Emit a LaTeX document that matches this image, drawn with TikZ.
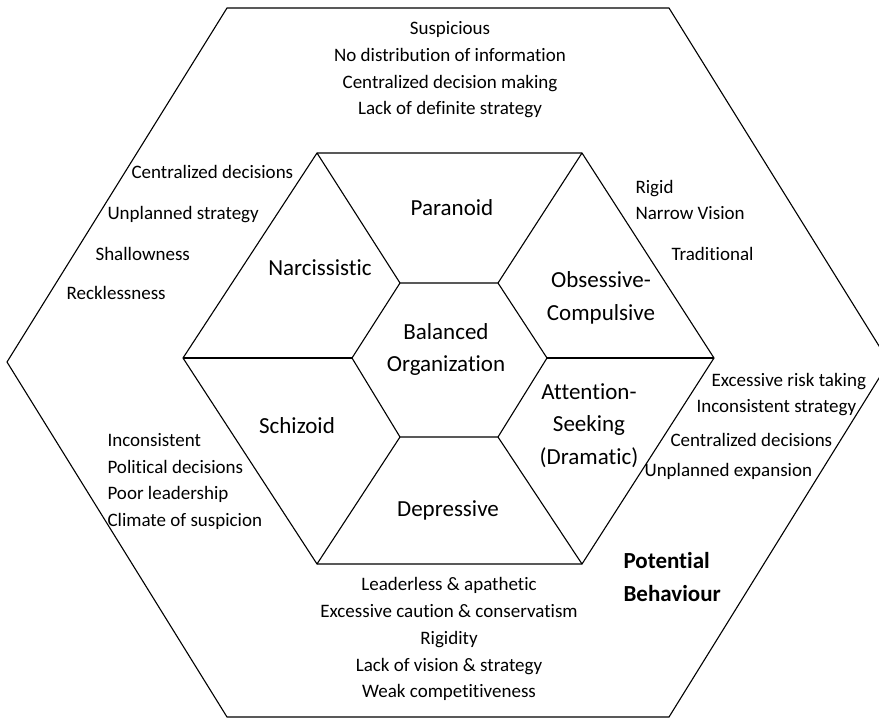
\documentclass[tikz,border=0pt]{standalone}
\usepackage{fontspec}
\setmainfont{Carlito}[Ligatures=NoCommon]
\begin{document}
\begin{tikzpicture}[x=1pt,y=-1pt,line width=1.1pt,line join=miter,
  sm/.style={font=\fontsize{19}{23}\selectfont,inner sep=0pt,text height=12.2pt,text depth=0pt},
  lg/.style={font=\fontsize{23}{28}\selectfont,inner sep=0pt,text height=14.7pt,text depth=0pt},
  bd/.style={font=\fontsize{23}{28}\selectfont\bfseries,inner sep=0pt,text height=14.7pt,text depth=0pt}]
\useasboundingbox (0,0) rectangle (879,718);
\clip (0,0) rectangle (879,718);
% outer hexagon
\coordinate (O1) at (227,8);
\coordinate (O2) at (669,8);
\coordinate (O3) at (889,362);
\coordinate (O4) at (669,717);
\coordinate (O5) at (227,717);
\coordinate (O6) at (7,362);
\draw (O1) -- (O2) -- (O3) -- (O4) -- (O5) -- (O6) -- cycle;
% big hexagon
\coordinate (B1) at (317,153);
\coordinate (B2) at (582,153);
\coordinate (B3) at (714,358);
\coordinate (B4) at (582,564);
\coordinate (B5) at (317,564);
\coordinate (B6) at (183,358);
\draw (B1) -- (B2) -- (B3) -- (B4) -- (B5) -- (B6) -- cycle;
% inner hexagon
\coordinate (I1) at (400,283);
\coordinate (I2) at (498,283);
\coordinate (I3) at (547,358);
\coordinate (I4) at (498,437);
\coordinate (I5) at (400,437);
\coordinate (I6) at (352,358);
\draw (I1) -- (I2) -- (I3) -- (I4) -- (I5) -- (I6) -- cycle;
% spokes
\draw (B1) -- (I1);
\draw (B2) -- (I2);
\draw (B3) -- (I3);
\draw (B4) -- (I4);
\draw (B5) -- (I5);
\draw (B6) -- (I6);
% segment labels
\node[lg] (par) at (452,208) {Paranoid};
\node[lg] (nar) at (320,268) {Narcissistic};
\node[lg] (obs1) at (601,280) {Obsessive-};
\node[lg] (obs2) at (601,313) {Compulsive};
\node[lg] (bal1) at (446,332) {Balanced};
\node[lg] (bal2) at (446,364) {Organization};
\node[lg] (sch) at (297,426) {Schizoid};
\node[lg] (dep) at (448,509) {Depressive};
\node[lg] (att1) at (589,392) {Attention-};
\node[lg] (att2) at (589,424) {Seeking};
\node[lg] (att3) at (589,457) {(Dramatic)};
% top list
\node[sm] (t1) at (450,28) {Suspicious};
\node[sm] (t2) at (450,55) {No distribution of information};
\node[sm] (t3) at (450,82) {Centralized decision making};
\node[sm] (t4) at (450,108) {Lack of definite strategy};
% upper left list
\node[sm,anchor=west] (l1) at (131,172) {Centralized decisions};
\node[sm,anchor=west] (l2) at (107,213) {Unplanned strategy};
\node[sm,anchor=west] (l3) at (95,254) {Shallowness};
\node[sm,anchor=west] (l4) at (66,293) {Recklessness};
% upper right list
\node[sm,anchor=west] (r1) at (635,187) {Rigid};
\node[sm,anchor=west] (r2) at (635,213) {Narrow Vision};
\node[sm,anchor=west] (r3) at (671,254) {Traditional};
% lower left list
\node[sm,anchor=west] (s1) at (107,440) {Inconsistent};
\node[sm,anchor=west] (s2) at (107,467) {Political decisions};
\node[sm,anchor=west] (s3) at (107,493) {Poor leadership};
\node[sm,anchor=west] (s4) at (107,520) {Climate of suspicion};
% lower right list
\node[sm,anchor=west] (a1) at (711,380) {Excessive risk taking};
\node[sm,anchor=west] (a2) at (696,406) {Inconsistent strategy};
\node[sm,anchor=west] (a3) at (670,440) {Centralized decisions};
\node[sm,anchor=west] (a4) at (644,470) {Unplanned expansion};
% potential behaviour
\node[bd,anchor=west] (pb1) at (623,561) {Potential};
\node[bd,anchor=west] (pb2) at (623,594) {Behaviour};
% bottom list
\node[sm] (d1) at (449,584) {Leaderless \& apathetic};
\node[sm] (d2) at (449,611) {Excessive caution \& conservatism};
\node[sm] (d3) at (449,638) {Rigidity};
\node[sm] (d4) at (449,665) {Lack of vision \& strategy};
\node[sm] (d5) at (449,691) {Weak competitiveness};
\end{tikzpicture}
\end{document}
